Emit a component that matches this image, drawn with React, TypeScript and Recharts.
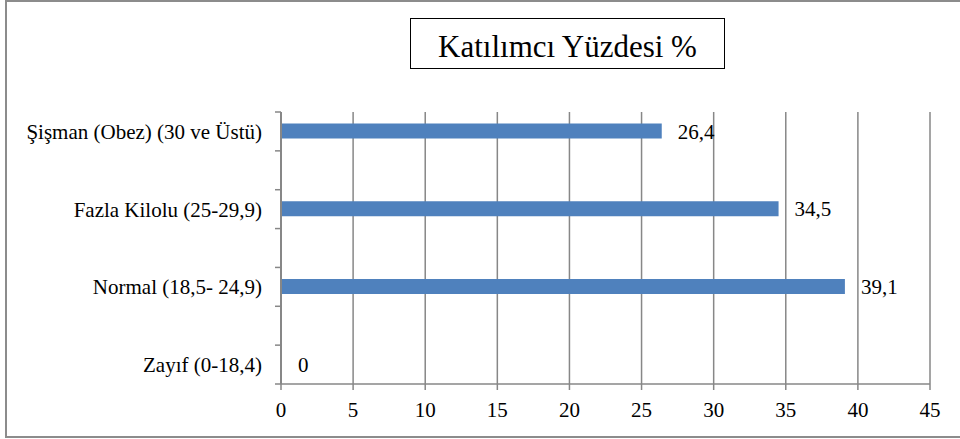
import React from 'react';
import { BarChart, Bar, XAxis, YAxis, CartesianGrid, LabelList } from 'recharts';

// top to bottom, as in the reference
const categories = [
  'Şişman (Obez) (30 ve Üstü)',
  'Fazla Kilolu (25-29,9)',
  'Normal (18,5- 24,9)',
  'Zayıf (0-18,4)',
];
const percentages = [26.4, 34.5, 39.1, 0];
const xTicks = [0, 5, 10, 15, 20, 25, 30, 35, 40, 45];
const title = 'Katılımcı Yüzdesi %';

const FONT = "'Liberation Serif', Tinos, 'Times New Roman', 'DejaVu Serif', serif";
const GRAY = '#878787';

// each category sits in the middle of two y-axis tick steps
const data = categories.map((name, i) => ({ name, pos: i * 2 + 0.5, value: percentages[i] }));
const yTicks = Array.from({ length: 15 }, (_, i) => i / 2);

function YTick(props: any) {
  const { x, y, payload } = props;
  const v = payload.value;
  if (Number.isInteger(v)) {
    return <line x1={x - 6} x2={x} y1={y} y2={y} stroke={GRAY} strokeWidth={1.5} />;
  }
  const entry = data.find((d) => d.pos === v);
  return (
    <text x={x - 19} y={y} dy="0.355em" textAnchor="end" style={{ fontFamily: FONT }} fontSize={21} fill="#000">
      {entry ? entry.name : ''}
    </text>
  );
}

export default function App() {
  return (
    <div style={{ position: 'absolute', left: 0, top: 0, width: 960, height: 439, overflow: 'hidden', background: '#fff' }}>
      <div
        style={{
          position: 'absolute',
          left: 5,
          top: 0,
          width: 962,
          height: 438,
          border: '2px solid #8c8c8c',
          boxSizing: 'border-box',
        }}
      />
      <BarChart
        width={960}
        height={439}
        data={data}
        layout="vertical"
        margin={{ top: 112, right: 30, bottom: 0, left: 0 }}
        style={{ fontFamily: FONT }}
      >
        <CartesianGrid horizontal={false} stroke={GRAY} strokeWidth={1.5} />
        <Bar dataKey="value" fill="#4f81bd" barSize={15} minPointSize={1} isAnimationActive={false}>
          <LabelList
            dataKey="value"
            position="right"
            offset={16}
            fill="#000"
            fontSize={21}
            style={{ fontFamily: FONT }}
            formatter={(v: any) => String(v).replace('.', ',')}
          />
        </Bar>
        <XAxis
          type="number"
          domain={[0, 45]}
          ticks={xTicks}
          interval={0}
          height={55}
          stroke={GRAY}
          strokeWidth={1.5}
          tickSize={6}
          tickMargin={12}
          tick={{ fill: '#000', fontSize: 21, style: { fontFamily: FONT } }}
        />
        <YAxis
          type="number"
          dataKey="pos"
          domain={[0, 7]}
          ticks={yTicks}
          interval={0}
          width={281}
          stroke={GRAY}
          strokeWidth={2}
          tickSize={0}
          tickMargin={0}
          tickLine={false}
          tick={<YTick />}
        />
      </BarChart>
      <div
        style={{
          position: 'absolute',
          left: 410,
          top: 18,
          width: 315,
          height: 51,
          border: '1px solid #000',
          boxSizing: 'border-box',
          fontFamily: FONT,
          fontSize: 31,
          lineHeight: '55px',
          textAlign: 'center',
          background: '#fff',
        }}
      >
        {title}
      </div>
    </div>
  );
}
